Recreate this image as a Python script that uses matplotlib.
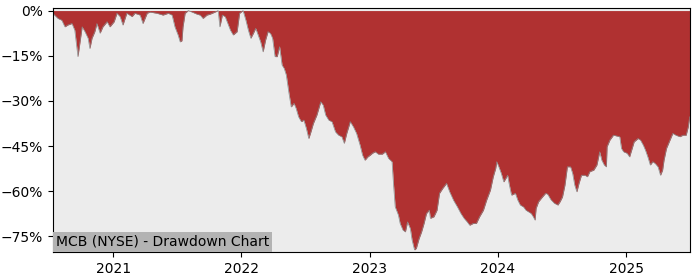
import numpy as np
import pandas as pd
import matplotlib
matplotlib.use("Agg")
import matplotlib.pyplot as plt
import matplotlib.dates as mdates
from matplotlib.ticker import PercentFormatter

# drawdown (percent below running peak)
dates = [
    "2020-07-14", "2020-07-28", "2020-08-08", "2020-08-17", "2020-08-25", "2020-09-06",
    "2020-09-14", "2020-09-23", "2020-10-05", "2020-10-13", "2020-10-22", "2020-10-27",
    "2020-11-02", "2020-11-10", "2020-11-16", "2020-11-25", "2020-12-03", "2020-12-15",
    "2020-12-23", "2021-01-04", "2021-01-12", "2021-01-21", "2021-01-29", "2021-02-09",
    "2021-02-24", "2021-03-04", "2021-03-19", "2021-03-27", "2021-04-08", "2021-04-16",
    "2021-05-06", "2021-05-23", "2021-06-07", "2021-06-18", "2021-06-26", "2021-07-05",
    "2021-07-11", "2021-07-16", "2021-07-19", "2021-07-25", "2021-08-03", "2021-08-14",
    "2021-08-28", "2021-09-06", "2021-09-14", "2021-09-25", "2021-10-04", "2021-10-18",
    "2021-10-27", "2021-11-01", "2021-11-08", "2021-11-16", "2021-12-01", "2021-12-09",
    "2021-12-20", "2021-12-27",
    "2022-01-06", "2022-01-14", "2022-01-21", "2022-01-28", "2022-02-04", "2022-02-11",
    "2022-02-18", "2022-02-25", "2022-03-04", "2022-03-11", "2022-03-18", "2022-03-25",
    "2022-03-31", "2022-04-07", "2022-04-13", "2022-04-20", "2022-04-27", "2022-05-03",
    "2022-05-09", "2022-05-16", "2022-05-23", "2022-05-31", "2022-06-06", "2022-06-13",
    "2022-06-21", "2022-06-28", "2022-07-05", "2022-07-12", "2022-07-18", "2022-07-25",
    "2022-08-04", "2022-08-15", "2022-08-22", "2022-08-29", "2022-09-07", "2022-09-16",
    "2022-09-26", "2022-10-05", "2022-10-14", "2022-10-21", "2022-10-28", "2022-11-07",
    "2022-11-16", "2022-11-25", "2022-12-05", "2022-12-12", "2022-12-19", "2022-12-27",
    "2023-01-03", "2023-01-09", "2023-01-17", "2023-01-26", "2023-02-06", "2023-02-15",
    "2023-02-24", "2023-03-06", "2023-03-10", "2023-03-15", "2023-03-24", "2023-03-29",
    "2023-04-06", "2023-04-13", "2023-04-19", "2023-04-27", "2023-05-02", "2023-05-09",
    "2023-05-14", "2023-05-22", "2023-05-29", "2023-06-05", "2023-06-12", "2023-06-20",
    "2023-06-23", "2023-07-03", "2023-07-12", "2023-07-19", "2023-07-28", "2023-08-08",
    "2023-08-17", "2023-08-28", "2023-09-08", "2023-09-18", "2023-09-27", "2023-10-06",
    "2023-10-13", "2023-10-23", "2023-11-01", "2023-11-10", "2023-11-21", "2023-11-30",
    "2023-12-11", "2023-12-19", "2023-12-26", "2023-12-29",
    "2024-01-04", "2024-01-11", "2024-01-18", "2024-01-29", "2024-02-02", "2024-02-09",
    "2024-02-20", "2024-02-27", "2024-03-05", "2024-03-14", "2024-03-21", "2024-03-28",
    "2024-04-05", "2024-04-11", "2024-04-16", "2024-04-19", "2024-04-26", "2024-05-07",
    "2024-05-16", "2024-05-22", "2024-05-31", "2024-06-10", "2024-06-20", "2024-06-26",
    "2024-07-03", "2024-07-10", "2024-07-17", "2024-07-26", "2024-08-01", "2024-08-07",
    "2024-08-13", "2024-08-19", "2024-08-26", "2024-09-05", "2024-09-12", "2024-09-19",
    "2024-09-30", "2024-10-09", "2024-10-17", "2024-10-23", "2024-10-30", "2024-11-05",
    "2024-11-07", "2024-11-15", "2024-11-25", "2024-12-06", "2024-12-13", "2024-12-18",
    "2024-12-24",
    "2025-01-03", "2025-01-10", "2025-01-16", "2025-01-23", "2025-02-03", "2025-02-10",
    "2025-02-18", "2025-02-24", "2025-03-03", "2025-03-10", "2025-03-17", "2025-03-24",
    "2025-04-01", "2025-04-08", "2025-04-14", "2025-04-18", "2025-04-25", "2025-05-05",
    "2025-05-13", "2025-05-22", "2025-06-02", "2025-06-11", "2025-06-20", "2025-06-26",
    "2025-06-30",
]
drawdown = [
    -1.0, -2.6, -3.2, -5.4, -4.8, -4.3,
    -6.5, -15.3, -5.4, -7.0, -9.2, -12.6,
    -9.2, -7.0, -4.3, -7.5, -5.4, -3.7,
    -5.4, -3.7, -0.9, -2.0, -4.8, -0.9,
    -2.0, -0.9, -1.5, -4.3, -0.9, -0.5,
    -0.9, -1.5, -0.9, -1.5, -5.4, -8.1,
    -10.4, -10.0, -5.4, -0.9, 0.0, -0.5,
    -1.2, -1.5, -2.6, -1.5, -1.2, -0.5,
    0.0, -5.4, -1.5, -2.0, -6.5, -8.1,
    -7.0, -0.9,
    0.0, -3.2, -6.5, -9.2, -7.6, -5.9,
    -8.1, -10.4, -13.7, -9.8, -7.0, -7.6,
    -9.2, -15.3, -15.3, -12.0, -18.1, -19.2,
    -21.4, -27.0, -32.0, -30.8, -32.5, -35.3,
    -36.9, -36.4, -39.1, -42.5, -40.3, -37.5,
    -34.7, -30.3, -31.4, -34.7, -36.4, -36.9,
    -40.3, -41.4, -41.9, -44.1, -40.8, -36.9,
    -38.6, -40.8, -44.7, -48.0, -49.7, -48.6,
    -48.0, -47.4, -46.9, -47.7, -47.7, -46.9,
    -49.1, -50.2, -57.4, -65.2, -67.9, -70.7,
    -72.9, -73.5, -70.2, -72.4, -76.2, -79.5,
    -79.0, -75.7, -73.5, -70.7, -67.4, -66.3,
    -69.0, -68.5, -66.3, -60.7, -59.1, -57.4,
    -60.2, -63.0, -65.2, -67.4, -69.0, -70.2,
    -71.3, -70.7, -70.7, -68.5, -66.3, -63.0,
    -59.6, -55.2, -52.4, -50.2,
    -51.9, -54.1, -56.9, -54.7, -57.4, -61.3,
    -60.7, -63.0, -64.6, -65.2, -66.3, -66.8,
    -67.4, -68.5, -69.6, -65.7, -63.5, -61.9,
    -60.7, -61.0, -62.8, -64.0, -64.6, -63.5,
    -61.9, -58.0, -51.9, -51.9, -54.1, -58.0,
    -60.2, -57.4, -54.7, -54.7, -55.2, -53.5,
    -53.0, -51.3, -46.9, -49.7, -51.3, -51.9,
    -45.2, -43.0, -41.4, -41.7, -41.9, -45.8,
    -46.9,
    -47.4, -48.6, -46.3, -43.6, -42.5, -43.0,
    -44.7, -46.3, -48.6, -51.3, -50.2, -50.8,
    -51.9, -54.7, -53.0, -49.7, -45.8, -43.0,
    -40.8, -41.4, -41.9, -41.4, -41.4, -38.6,
    -35.3,
]
yticks = [0, -15, -30, -45, -60, -75]
title = "MCB (NYSE) - Drawdown Chart"

x = pd.to_datetime(dates)
y = np.array(drawdown)

fig = plt.figure(figsize=(7, 2.8), dpi=100)
ax = fig.add_axes([0.0757, 0.1, 0.91, 0.873])
ax.set_facecolor("#ececec")

ax.plot(x, y, color="#8a8a8a", lw=0.5)
ax.fill_between(x, y, 0, color="#b03131", lw=0)

ax.set_xlim(pd.Timestamp("2020-07-14"), pd.Timestamp("2025-07-01"))
ax.set_ylim(-80.2, 1.0)
ax.set_yticks(yticks)
ax.yaxis.set_major_formatter(PercentFormatter(decimals=0))
ax.xaxis.set_major_locator(mdates.YearLocator())
ax.xaxis.set_major_formatter(mdates.DateFormatter("%Y"))

ax.annotate(title, xy=(0, 0), xycoords="axes fraction", xytext=(2.3, 2.3),
            textcoords="offset points", ha="left", va="bottom", fontsize=10,
            bbox=dict(boxstyle="square,pad=0.2", fc="#b3b3b3", ec="none"))

fig.savefig("out.png")
